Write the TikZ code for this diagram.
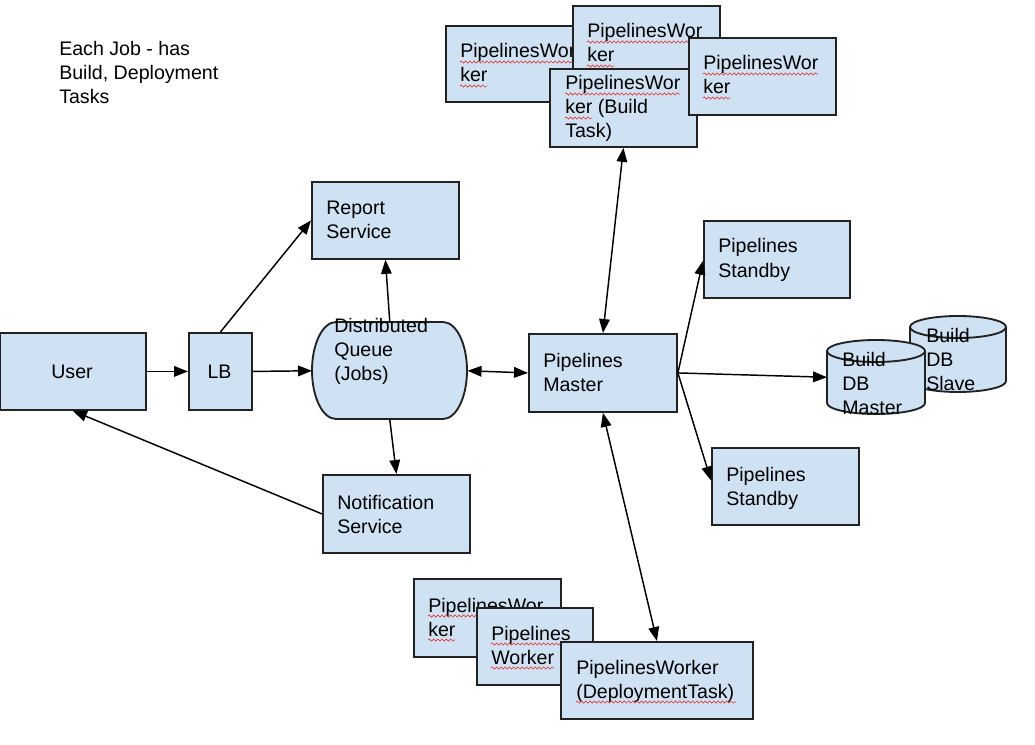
\documentclass[tikz,border=0pt]{standalone}
\usepackage{fontspec}
\setmainfont{Liberation Sans}
\usetikzlibrary{arrows.meta,decorations.pathmorphing}
\definecolor{boxfill}{HTML}{CFE2F3}
\definecolor{boxline}{HTML}{222222}
\definecolor{squigred}{HTML}{E04040}
\newcommand\dfs{\fontsize{14.7pt}{18pt}\selectfont}
\begin{document}
\begin{tikzpicture}[x=0.75pt,y=-0.75pt,
  box/.style={draw=boxline,fill=boxfill,line width=1.4pt,inner sep=0pt,anchor=north west},
  ghost/.style={inner sep=0pt,anchor=north west},
  txt/.style={inner sep=0pt,align=left,anchor=base west,font=\dfs,text=black},
  ctxt/.style={inner sep=0pt,align=center,anchor=base,font=\dfs,text=black},
  arr/.style={draw=black,line width=1.1pt,-{Triangle[length=10.5pt,width=8pt]}},
  arrb/.style={draw=black,line width=1.1pt,{Triangle[length=10.5pt,width=8pt]}-{Triangle[length=10.5pt,width=8pt]}},
  squig/.style={draw=squigred,line width=0.5pt,decorate,decoration={snake,amplitude=0.8pt,segment length=3.2pt}},
  shp/.style={draw=boxline,fill=boxfill,line width=1.4pt}]
\useasboundingbox[fill=white] (0,0) rectangle (1035,745);

% note (anchor = baseline of last line)
\node[txt] (note) at (59,104) {Each Job - has\\Build, Deployment\\Tasks};

% user, LB
\node[box,minimum width=146*0.75pt,minimum height=77*0.75pt] (user) at (-1,332) {};
\node[ctxt] (usert) at (72,378) {User};
\node[box,minimum width=63*0.75pt,minimum height=77*0.75pt] (lb) at (188,332) {};
\node[ctxt] (lbt) at (219.5,378) {LB};

% report
\node[box,minimum width=147*0.75pt,minimum height=77*0.75pt] (rep) at (311,181) {};
\node[txt] (rept) at (326,239) {Report\\Service};

% queue
\node[ghost,minimum width=155*0.75pt,minimum height=97*0.75pt] (q) at (312,322) {};
\path[shp] (336,322) -- (443,322) .. controls (456.25,322) and (467,343.7) .. (467,370.5)
  .. controls (467,397.3) and (456.25,419) .. (443,419) -- (336,419)
  .. controls (322.75,419) and (312,397.3) .. (312,370.5)
  .. controls (312,343.7) and (322.75,322) .. (336,322) -- cycle;
\node[txt] (qt) at (334,380) {Distributed\\Queue\\(Jobs)};

% notification
\node[box,minimum width=147*0.75pt,minimum height=78*0.75pt] (notif) at (322,474) {};
\node[txt] (notift) at (337,533) {Notification\\Service};

% master
\node[box,minimum width=148*0.75pt,minimum height=78*0.75pt] (master) at (528,333) {};
\node[txt] (mastert) at (543,391) {Pipelines\\Master};

% standby
\node[box,minimum width=146*0.75pt,minimum height=77*0.75pt] (sb1) at (703,220) {};
\node[txt] (sb1t) at (718,277) {Pipelines\\Standby};
\node[box,minimum width=147*0.75pt,minimum height=77*0.75pt] (sb2) at (711,447) {};
\node[txt] (sb2t) at (726,505) {Pipelines\\Standby};

% DB slave
\node[ghost,minimum width=96*0.75pt,minimum height=76*0.75pt] (dbs) at (910,316) {};
\fill[boxfill] (910,327) -- (910,381) .. controls (910,387.08) and (931.5,392) .. (958,392)
  .. controls (984.5,392) and (1006,387.08) .. (1006,381) -- (1006,327) -- cycle;
\draw[boxline,line width=1.4pt] (910,327) -- (910,381) .. controls (910,387.08) and (931.5,392) .. (958,392)
  .. controls (984.5,392) and (1006,387.08) .. (1006,381) -- (1006,327);
\path[shp] (958,327) ellipse [x radius=48,y radius=11];
\node[txt] (dbst) at (926,390) {Build\\DB\\Slave};

% DB master
\node[ghost,minimum width=98*0.75pt,minimum height=74*0.75pt] (dbm) at (827,340) {};
\fill[boxfill] (827,351) -- (827,403) .. controls (827,409.08) and (848.94,414) .. (876,414)
  .. controls (903.06,414) and (925,409.08) .. (925,403) -- (925,351) -- cycle;
\draw[boxline,line width=1.4pt] (827,351) -- (827,403) .. controls (827,409.08) and (848.94,414) .. (876,414)
  .. controls (903.06,414) and (925,409.08) .. (925,403) -- (925,351);
\path[shp] (876,351) ellipse [x radius=49,y radius=11];
\node[txt] (dbmt) at (842,414) {Build\\DB\\Master};

% top workers
\node[box,minimum width=150*0.75pt,minimum height=76*0.75pt] (w1) at (445,25) {};
\node[txt] (w1t) at (460,82) {PipelinesWor\\ker};
\draw[squig] (460,62) -- (575,62);
\draw[squig] (460,86) -- (487,86);

\node[box,minimum width=147*0.75pt,minimum height=77*0.75pt] (w2) at (572,5) {};
\node[txt] (w2t) at (587,62) {PipelinesWor\\ker};
\draw[squig] (587,42) -- (702,42);
\draw[squig] (587,66) -- (614,66);

\node[box,minimum width=147*0.75pt,minimum height=78*0.75pt] (w3) at (549,68) {};
\node[txt] (w3t) at (565,138) {PipelinesWor\\ker (Build\\Task)};
\draw[squig] (565,94) -- (680,94);
\draw[squig] (565,118) -- (592,118);

\node[box,minimum width=147*0.75pt,minimum height=77*0.75pt] (w4) at (688,37) {};
\node[txt] (w4t) at (703,94) {PipelinesWor\\ker};
\draw[squig] (703,74) -- (818,74);
\draw[squig] (703,98) -- (730,98);

% bottom workers
\node[box,minimum width=147*0.75pt,minimum height=78*0.75pt] (b1) at (413,578) {};
\node[txt] (b1t) at (428,636) {PipelinesWor\\ker};
\draw[squig] (428,616) -- (543,616);
\draw[squig] (428,640) -- (455,640);

\node[box,minimum width=116*0.75pt,minimum height=77*0.75pt] (b2) at (476,607) {};
\node[txt] (b2t) at (491,664) {Pipelines\\Worker};
\draw[squig] (491,644) -- (570,644);
\draw[squig] (491,668) -- (554,668);

\node[box,minimum width=192*0.75pt,minimum height=77*0.75pt] (b3) at (560,641) {};
\node[txt] (b3t) at (576,698) {PipelinesWorker\\(DeploymentTask)};
\draw[squig] (576,702) -- (736,702);

% connectors
\draw[arr] (user) -- (lb);
\draw[arr] (lb.east) -- (q.west);
\draw[arr] (lb.north) -- (rep.west);
\draw[arr] (q.north) -- (rep.south);
\draw[arr] (q.south) -- (notif.north);
\draw[arr] (notif.west) -- (user.south);
\draw[arrb] (q.east) -- (master.west);
\draw[arrb] (master.north) -- (w3.south);
\draw[arrb] (master.south) -- (b3.north);
\draw[arr] (master.east) -- ([yshift=-1pt]sb1.west);
\draw[arr] (master.east) -- (dbm.west);
\draw[arr] (master.east) -- ([yshift=4.5pt]sb2.west);
\end{tikzpicture}
\end{document}
